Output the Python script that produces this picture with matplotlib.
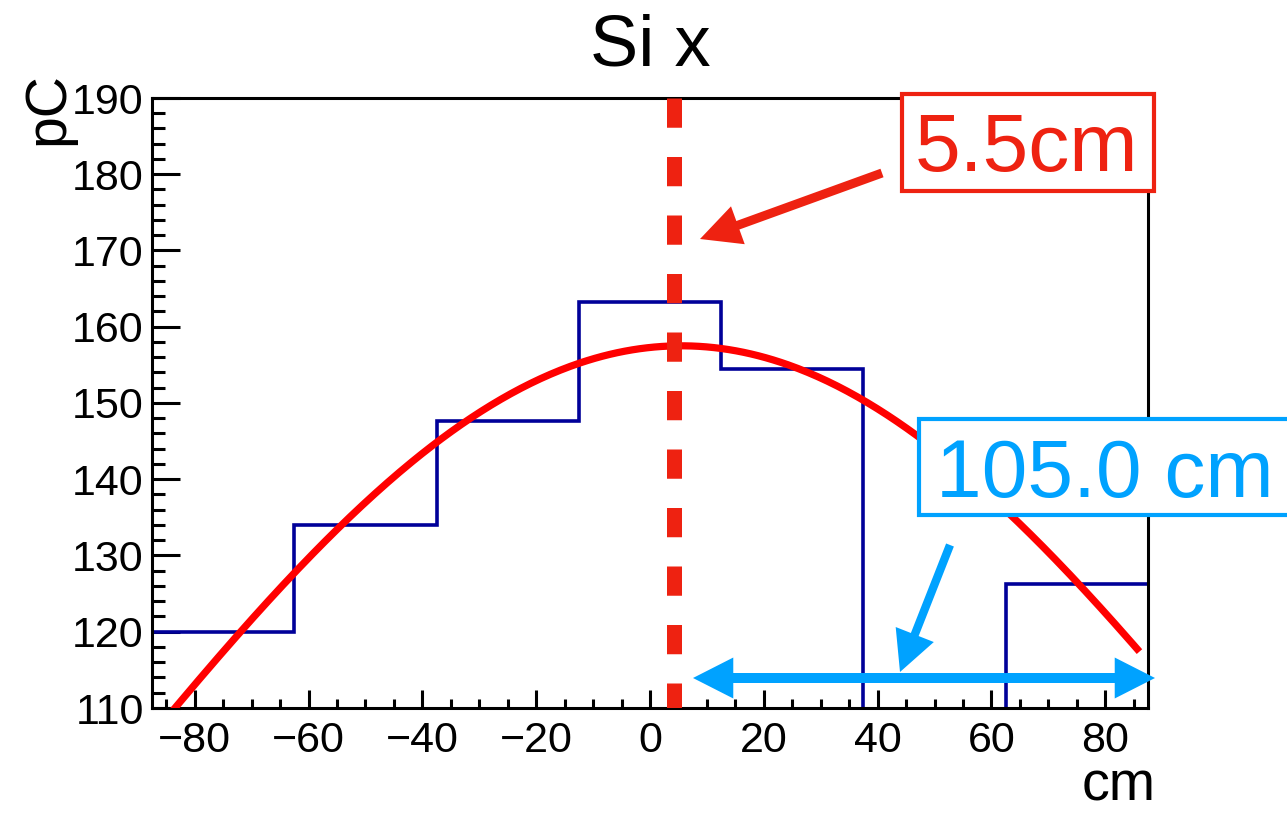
import numpy as np
import matplotlib
matplotlib.use("Agg")
import matplotlib.pyplot as plt
from matplotlib.patches import Rectangle, FancyArrowPatch

# ---- data ----
bin_edges = [-87.5, -62.5, -37.5, -12.5, 12.5, 37.5, 62.5, 87.5]
bin_values = [120.0, 134.0, 147.7, 163.2, 154.5, 100.0, 126.2]
fit_amp = 157.5
fit_mean = 5.5
fit_sigma = 105.0
fit_range = [-87.5, 86.0]
marker_x = 4.3
x_ticks = [-80, -60, -40, -20, 0, 20, 40, 60, 80]
y_ticks = [110, 120, 130, 140, 150, 160, 170, 180, 190]
title = "Si x"
x_label = "cm"
y_label = "pC"
peak_label = "5.5cm"
width_label = "105.0 cm"

W, H = 1287, 813
plt.rcParams['font.family'] = ['Liberation Sans', 'DejaVu Sans']
fig = plt.figure(figsize=(W / 100, H / 100), dpi=100)

def fx(px):
    return px / W

def fy(py):
    return 1 - py / H

ax = fig.add_axes([fx(152), fy(708), (1148 - 152) / W, (708 - 98) / H])
ax.set_xlim(bin_edges[0], bin_edges[-1])
ax.set_ylim(y_ticks[0], y_ticks[-1])

# histogram
ax.stairs(bin_values, bin_edges, baseline=None, color='#000099', lw=2.6, zorder=2)

# fit curve
xs = np.linspace(fit_range[0], fit_range[1], 400)
ys = fit_amp * np.exp(-0.5 * ((xs - fit_mean) / fit_sigma) ** 2)
ax.plot(xs, ys, color='#ff0000', lw=5.2, zorder=3, solid_capstyle='butt')

# dashed marker line
ax.plot([marker_x, marker_x], [y_ticks[-1], y_ticks[0]], color='#ee2211', lw=10.8,
        dashes=(1.95, 1.95), dash_capstyle='butt', zorder=4)

# axes styling
for side in ['left', 'bottom', 'top', 'right']:
    ax.spines[side].set_linewidth(2.2)
ax.set_xticks(x_ticks)
ax.set_yticks(y_ticks)
ax.set_xticks(np.arange(-85, 90, 5), minor=True)
ax.set_yticks(np.arange(110, 191, 2), minor=True)
ax.tick_params(axis='x', which='major', direction='in', length=13, width=2.2,
               labelsize=31, pad=9)
ax.tick_params(axis='x', which='minor', direction='in', length=6.5, width=2.2)
ax.tick_params(axis='y', which='major', direction='in', length=20, width=2.2,
               labelsize=31, pad=6)
ax.tick_params(axis='y', which='minor', direction='in', length=9, width=2.2)

# titles
fig.text(fx(650), fy(65), title, ha='center', va='baseline', fontsize=52)
fig.text(fx(1156), fy(800), x_label, ha='right', va='baseline', fontsize=40)
fig.text(fx(48), fy(72), y_label, ha='center', va='top', rotation=90, fontsize=41)

# red annotation box
red = '#ee2211'
blue = '#00a2ff'
fig.add_artist(Rectangle((fx(902), fy(191)), (1154 - 902) / W, (191 - 94) / H,
                         transform=fig.transFigure, facecolor='white',
                         edgecolor=red, lw=3.0, zorder=5))
fig.text(fx(915), fy(171), peak_label, ha='left', va='baseline', fontsize=59,
         color=red, zorder=6)

# blue annotation box
fig.add_artist(Rectangle((fx(919), fy(515)), (1400 - 919) / W, (515 - 419) / H,
                         transform=fig.transFigure, facecolor='white',
                         edgecolor=blue, lw=3.0, zorder=5))
fig.text(fx(936), fy(497), width_label, ha='left', va='baseline', fontsize=59,
         color=blue, zorder=6)

def arrow(p0, p1, color, tail, hl, hw):
    a = FancyArrowPatch((fx(p0[0]), fy(p0[1])), (fx(p1[0]), fy(p1[1])),
                        transform=fig.transFigure,
                        arrowstyle=f'simple,head_length={hl},head_width={hw},tail_width={tail}',
                        mutation_scale=1, color=color, shrinkA=0, shrinkB=0,
                        lw=0, zorder=7)
    fig.add_artist(a)

arrow((882, 173), (700, 239), red, 6.5, 29, 29)
arrow((950, 545), (900, 672), blue, 6.0, 29, 29.5)
mid = (693 + 1155) / 2
arrow((mid, 678), (693, 678), blue, 7.2, 29, 29.5)
arrow((mid, 678), (1155, 678), blue, 7.2, 29, 29.5)

fig.savefig('out.png', dpi=100)
